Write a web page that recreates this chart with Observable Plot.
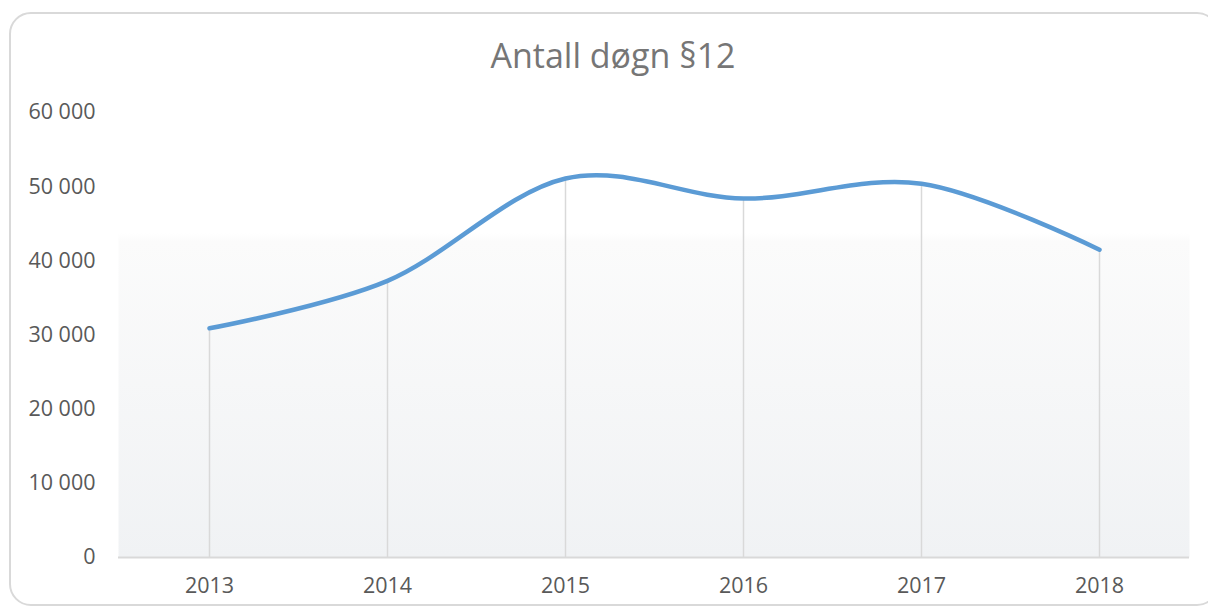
<!DOCTYPE html>
<html>
<head>
<meta charset="utf-8">
<script src="https://cdn.jsdelivr.net/npm/d3@7"></script>
<script src="https://cdn.jsdelivr.net/npm/@observablehq/plot@0.6"></script>
<style>
  html, body { margin: 0; padding: 0; background: #fff; }
  #wrap { position: relative; width: 1208px; height: 610px; overflow: hidden; font-family: "Open Sans", sans-serif; }
  #frame { position: absolute; left: 9px; top: 12px; width: 1210px; height: 594px; border: 2px solid #d9d9d9; border-radius: 22px; box-sizing: border-box; }
  #title { position: absolute; left: 0; width: 1226px; top: 32px; text-align: center; font-size: 34px; color: #767676; }
  #chart { position: absolute; left: 0; top: 0; }
</style>
</head>
<body>
<div id="wrap">
  <div id="frame"></div>
  <div id="chart"></div>
  <div id="title">Antall døgn §12</div>
</div>
<script>
const years = ["2013", "2014", "2015", "2016", "2017", "2018"];
const values = [30900, 37300, 51100, 48400, 50400, 41500];
const yTicks = [0, 10000, 20000, 30000, 40000, 50000, 60000];

const data = years.map((year, i) => ({year, value: values[i]}));
const fmt = v => d3.format(",")(v).replace(/,/g, " ");

const plot = Plot.plot({
  width: 1208,
  height: 610,
  marginTop: 112,
  marginBottom: 53,
  marginLeft: 118,
  marginRight: 19,
  style: {fontFamily: "Open Sans, sans-serif", fontSize: "21.5px", color: "#595959", background: "transparent"},
  x: {type: "point", domain: years, padding: 0.5, label: null},
  y: {domain: [0, 60000], label: null},
  marks: [
    Plot.frame({fill: "url(#bgGrad)", stroke: null}),
    Plot.ruleX(data, {x: "year", y1: 0, y2: "value", stroke: "#d9d9d9", strokeWidth: 1.5}),
    Plot.ruleY([0], {stroke: "#d9d9d9", strokeWidth: 2}),
    Plot.axisY({ticks: yTicks, tickFormat: fmt, tickSize: 0, tickPadding: 23, fontSize: 21.5, fill: "#595959"}),
    Plot.axisX({tickSize: 0, tickPadding: 20, fontSize: 21.5, fill: "#595959"}),
    Plot.line(data, {x: "year", y: "value", curve: "cardinal", stroke: "#5b9bd5", strokeWidth: 4.5, strokeLinecap: "round"})
  ]
});

const svg = d3.select(plot);
const defs = svg.insert("defs", ":first-child");
const g = defs.append("linearGradient").attr("id", "bgGrad").attr("x1", 0).attr("y1", 0).attr("x2", 0).attr("y2", 1);
g.append("stop").attr("offset", 0).attr("stop-color", "#ffffff");
g.append("stop").attr("offset", 0.27).attr("stop-color", "#ffffff");
g.append("stop").attr("offset", 0.29).attr("stop-color", "#fbfbfb");
g.append("stop").attr("offset", 1).attr("stop-color", "#f0f2f4");

document.getElementById("chart").appendChild(plot);
</script>
</body>
</html>
